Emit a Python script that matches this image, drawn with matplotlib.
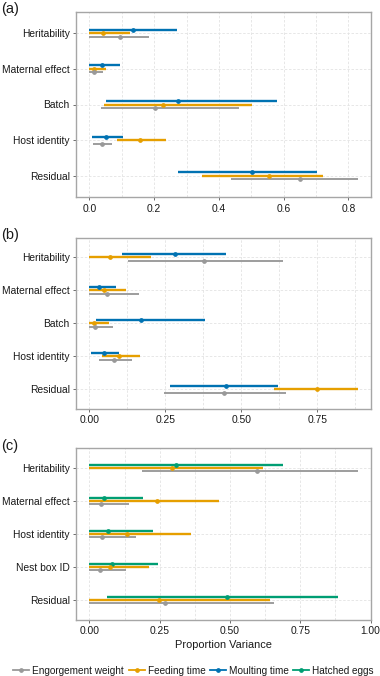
import matplotlib
matplotlib.use("Agg")
import matplotlib.pyplot as plt
from matplotlib.lines import Line2D
import numpy as np

plt.rcParams['font.family'] = ['Liberation Sans', 'DejaVu Sans']

# ---------------- data ----------------
cats_ab = ["Heritability", "Maternal effect", "Batch", "Host identity", "Residual"]
cats_c = ["Heritability", "Maternal effect", "Host identity", "Nest box ID", "Residual"]

# panel (a)
moult_a_est = [0.133, 0.038, 0.274, 0.051, 0.503]
moult_a_lo = [0.0, 0.0, 0.050, 0.008, 0.274]
moult_a_hi = [0.271, 0.094, 0.579, 0.103, 0.703]
feed_a_est = [0.041, 0.015, 0.228, 0.156, 0.556]
feed_a_lo = [0.0, 0.0, 0.046, 0.084, 0.348]
feed_a_hi = [0.125, 0.051, 0.502, 0.236, 0.722]
eng_a_est = [0.094, 0.013, 0.201, 0.038, 0.651]
eng_a_lo = [0.0, 0.0, 0.036, 0.010, 0.438]
eng_a_hi = [0.183, 0.041, 0.461, 0.070, 0.829]

# panel (b)
moult_b_est = [0.281, 0.031, 0.171, 0.049, 0.449]
moult_b_lo = [0.106, 0.0, 0.022, 0.004, 0.265]
moult_b_hi = [0.451, 0.088, 0.381, 0.099, 0.622]
feed_b_est = [0.068, 0.048, 0.016, 0.099, 0.750]
feed_b_lo = [0.0, 0.0, 0.0, 0.041, 0.607]
feed_b_hi = [0.203, 0.120, 0.064, 0.168, 0.884]
eng_b_est = [0.378, 0.059, 0.019, 0.080, 0.444]
eng_b_lo = [0.128, 0.0, 0.0, 0.031, 0.246]
eng_b_hi = [0.637, 0.164, 0.077, 0.139, 0.646]

# panel (c)
hatch_c_est = [0.307, 0.052, 0.065, 0.082, 0.488]
hatch_c_lo = [0.0, 0.0, 0.0, 0.0, 0.062]
hatch_c_hi = [0.687, 0.190, 0.225, 0.243, 0.883]
feed_c_est = [0.295, 0.239, 0.133, 0.073, 0.249]
feed_c_lo = [0.0, 0.0, 0.0, 0.0, 0.0]
feed_c_hi = [0.616, 0.462, 0.360, 0.212, 0.642]
eng_c_est = [0.596, 0.040, 0.046, 0.038, 0.270]
eng_c_lo = [0.186, 0.0, 0.0, 0.0, 0.0]
eng_c_hi = [0.955, 0.141, 0.165, 0.129, 0.656]

ticks_a = [0.0, 0.2, 0.4, 0.6, 0.8]
ticklabels_a = ["0.0", "0.2", "0.4", "0.6", "0.8"]
ticks_b = [0.0, 0.25, 0.5, 0.75]
ticklabels_b = ["0.00", "0.25", "0.50", "0.75"]
ticks_c = [0.0, 0.25, 0.5, 0.75, 1.0]
ticklabels_c = ["0.00", "0.25", "0.50", "0.75", "1.00"]

legend_names = ["Engorgement weight", "Feeding time", "Moulting time", "Hatched eggs"]

# ---------------- style ----------------
C_GREY = "#999999"
C_ORANGE = "#E69F00"
C_BLUE = "#0072B2"
C_GREEN = "#009E73"
TXT = "#1a1a1a"
FRAME = "#a6a6a6"
GRID = "#e3e3e3"

fig = plt.figure(figsize=(3.8, 6.76), dpi=100)

L, R = 76 / 380, 371.3 / 380
def yf(px):
    return 1 - px / 676

panels = [
    (yf(197.3), yf(11.7)),
    (yf(409), yf(237.7)),
    (yf(620), yf(448)),
]

def draw_panel(ax, cats, series, ticks, ticklabels, minor, xlim, label):
    n = len(cats)
    ypos = np.arange(n, 0, -1)  # top category at y=n
    for est, lo, hi, col, off, lw in series:
        y = ypos + off
        ax.hlines(y, lo, hi, color=col, lw=lw, zorder=3)
        ax.plot(est, y, 'o', color=col, ms=2.4, zorder=4, mec=col)
    ax.set_ylim(0.4, n + 0.6)
    ax.set_xlim(*xlim)
    ax.set_yticks(ypos)
    ax.set_yticklabels(cats, fontsize=7.4, color=TXT)
    ax.set_xticks(ticks)
    ax.set_xticklabels(ticklabels, fontsize=7.4, color=TXT)
    ax.set_xticks(minor, minor=True)
    ax.tick_params(axis='x', which='minor', length=0)
    ax.tick_params(axis='both', which='major', length=2.5, width=0.6, color="#555555", pad=2)
    for x in list(ticks) + list(minor):
        ax.axvline(x, color=GRID, lw=0.6, ls=(0, (3, 2)), zorder=0)
    for y in ypos:
        ax.axhline(y, color=GRID, lw=0.6, ls=(0, (3, 2)), zorder=0)
    for s in ax.spines.values():
        s.set_color(FRAME)
        s.set_linewidth(1.0)
    fig.text(0.003, ax.get_position().y1 + 9.5 / 676, label, fontsize=10.5, color=TXT,
             ha='left', va='top')

off = 0.1
lw_c = 1.7
lw_g = 1.35

ax_a = fig.add_axes([L, panels[0][0], R - L, panels[0][1] - panels[0][0]])
draw_panel(ax_a, cats_ab, [
    (moult_a_est, moult_a_lo, moult_a_hi, C_BLUE, off, lw_c),
    (feed_a_est, feed_a_lo, feed_a_hi, C_ORANGE, 0.0, lw_c),
    (eng_a_est, eng_a_lo, eng_a_hi, C_GREY, -off, lw_g),
], ticks_a, ticklabels_a, [0.1, 0.3, 0.5, 0.7], (-0.0415, 0.8705), "(a)")

ax_b = fig.add_axes([L, panels[1][0], R - L, panels[1][1] - panels[1][0]])
draw_panel(ax_b, cats_ab, [
    (moult_b_est, moult_b_lo, moult_b_hi, C_BLUE, off, lw_c),
    (feed_b_est, feed_b_lo, feed_b_hi, C_ORANGE, 0.0, lw_c),
    (eng_b_est, eng_b_lo, eng_b_hi, C_GREY, -off, lw_g),
], ticks_b, ticklabels_b, [0.125, 0.375, 0.625, 0.875], (-0.0442, 0.9282), "(b)")

ax_c = fig.add_axes([L, panels[2][0], R - L, panels[2][1] - panels[2][0]])
draw_panel(ax_c, cats_c, [
    (hatch_c_est, hatch_c_lo, hatch_c_hi, C_GREEN, off, lw_c),
    (feed_c_est, feed_c_lo, feed_c_hi, C_ORANGE, 0.0, lw_c),
    (eng_c_est, eng_c_lo, eng_c_hi, C_GREY, -off, lw_g),
], ticks_c, ticklabels_c, [0.125, 0.375, 0.625, 0.875], (-0.0478, 1.0028), "(c)")
ax_c.set_xlabel("Proportion Variance", fontsize=7.9, color=TXT, labelpad=3)

handles = [Line2D([0], [0], color=c, lw=1.3, marker='o', ms=2.4)
           for c in [C_GREY, C_ORANGE, C_BLUE, C_GREEN]]
fig.legend(handles, legend_names, loc='center', bbox_to_anchor=(193.5 / 380, 1 - 670.5 / 676),
           ncol=4, frameon=False, fontsize=7.2, handlelength=1.6, handletextpad=0.3,
           columnspacing=0.45, borderaxespad=0, borderpad=0, labelcolor=TXT)

fig.savefig("out.png", dpi=100, facecolor="white")
